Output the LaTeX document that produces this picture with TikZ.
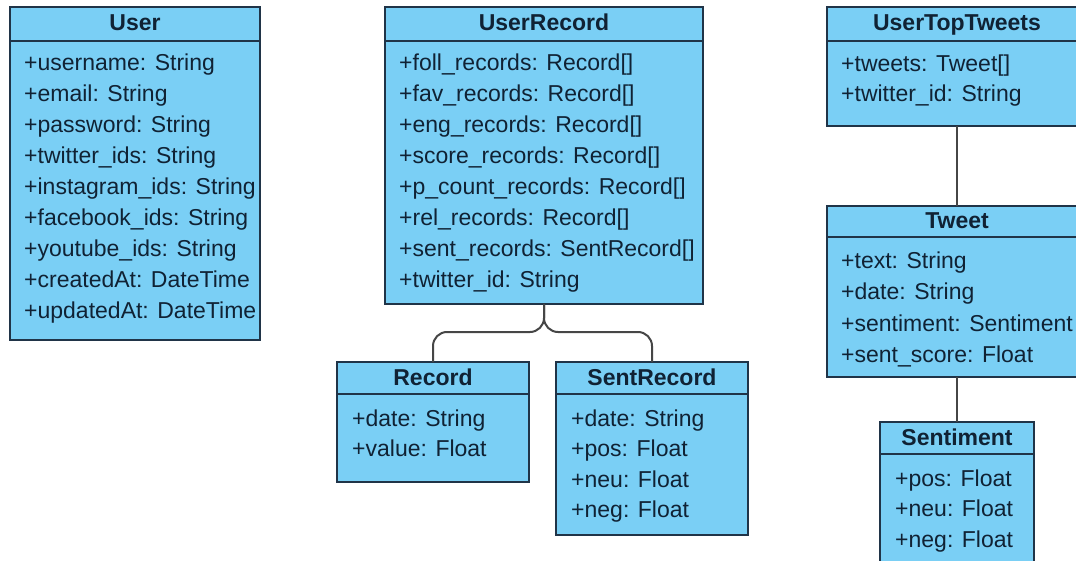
\documentclass[tikz,border=0pt]{standalone}
\usepackage{fontspec}
\setmainfont{Liberation Sans}
\usetikzlibrary{calc}
\usetikzlibrary{positioning}

\definecolor{classfill}{RGB}{122,207,245}
\definecolor{classline}{RGB}{32,52,72}
\definecolor{classtext}{RGB}{16,34,52}
\definecolor{linkgray}{RGB}{70,70,70}

\tikzset{
  classhead/.style={draw=classline, fill=classfill, line width=2.5pt, outer sep=0pt, inner sep=0pt,
    anchor=north west, text=classtext, font=\fontsize{23}{31}\selectfont\bfseries,
    text height=16pt, text depth=2pt},
  classbody/.style={draw=classline, fill=classfill, line width=2.5pt, outer sep=0pt, inner sep=0pt},
  attr/.style={anchor=base west, inner sep=0pt, text=classtext, font=\fontsize{23}{31}\selectfont},
  link/.style={draw=linkgray, line width=2pt}
}

\begin{document}
\begin{tikzpicture}[x=1pt, y=-1pt]
  \useasboundingbox (0,0) rectangle (1076,561);
  \clip (0,0) rectangle (1076,561);
  \fill[white] (0,0) rectangle (1076,561);

  % User
  \node[classhead, minimum width=250, minimum height=34] (user) at (10,7) {User};
  \node[classbody, minimum width=250, minimum height=299, below=0pt of user] (userbody) {};
  \foreach \a [count=\i] in {+username: String, +email: String, +password: String,
      +twitter\_ids: String, +instagram\_ids: String, +facebook\_ids: String,
      +youtube\_ids: String, +createdAt: DateTime, +updatedAt: DateTime}{
    \node[attr] (user-\i) at ($(userbody.north west)+(14,{30+31*(\i-1)})$) {\a};
  }

  % UserRecord
  \node[classhead, minimum width=318, minimum height=34] (urec) at (385,7) {UserRecord};
  \node[classbody, minimum width=318, minimum height=263, below=0pt of urec] (urecbody) {};
  \foreach \a [count=\i] in {+foll\_records: Record[], +fav\_records: Record[],
      +eng\_records: Record[], +score\_records: Record[], +p\_count\_records: Record[],
      +rel\_records: Record[], +sent\_records: SentRecord[], +twitter\_id: String}{
    \node[attr] (urec-\i) at ($(urecbody.north west)+(14,{30+31*(\i-1)})$) {\a};
  }

  % Record
  \node[classhead, minimum width=192, minimum height=32] (record) at (337,362) {Record};
  \node[classbody, minimum width=192, minimum height=88, below=0pt of record] (recordbody) {};
  \foreach \a [count=\i] in {+date: String, +value: Float}{
    \node[attr] (record-\i) at ($(recordbody.north west)+(15,{32+30*(\i-1)})$) {\a};
  }

  % SentRecord
  \node[classhead, minimum width=192, minimum height=32] (srec) at (556,362) {SentRecord};
  \node[classbody, minimum width=192, minimum height=141, below=0pt of srec] (srecbody) {};
  \foreach \a [count=\i] in {+date: String, +pos: Float, +neu: Float, +neg: Float}{
    \node[attr] (srec-\i) at ($(srecbody.north west)+(15,{32+30.5*(\i-1)})$) {\a};
  }

  % UserTopTweets
  \node[classhead, minimum width=260, minimum height=34] (toptw) at (827,7) {UserTopTweets};
  \node[classbody, minimum width=260, minimum height=85, below=0pt of toptw] (toptwbody) {};
  \foreach \a [count=\i] in {+tweets: Tweet[], +twitter\_id: String}{
    \node[attr] (toptw-\i) at ($(toptwbody.north west)+(14,{31+30*(\i-1)})$) {\a};
  }

  % Tweet
  \node[classhead, minimum width=260, minimum height=31] (tweet) at (827,206) {Tweet};
  \node[classbody, minimum width=260, minimum height=140, below=0pt of tweet] (tweetbody) {};
  \foreach \a [count=\i] in {+text: String, +date: String, +sentiment: Sentiment, +sent\_score: Float}{
    \node[attr] (tweet-\i) at ($(tweetbody.north west)+(14,{32+31*(\i-1)})$) {\a};
  }

  % Sentiment
  \node[classhead, minimum width=154, minimum height=32] (senti) at (880,422) {Sentiment};
  \node[classbody, minimum width=154, minimum height=115, below=0pt of senti] (sentibody) {};
  \foreach \a [count=\i] in {+pos: Float, +neu: Float, +neg: Float}{
    \node[attr] (senti-\i) at ($(sentibody.north west)+(15,{32+30.5*(\i-1)})$) {\a};
  }

  % links
  \draw[link, rounded corners=14pt] (urecbody.south) -- ($(urecbody.south)+(0,28)$) -| (record.north);
  \draw[link, rounded corners=14pt] (urecbody.south) -- ($(urecbody.south)+(0,28)$) -| (srec.north);
  \draw[link] (toptwbody.south) -- (tweet.north);
  \draw[link] (tweetbody.south) -- (senti.north);
\end{tikzpicture}
\end{document}
